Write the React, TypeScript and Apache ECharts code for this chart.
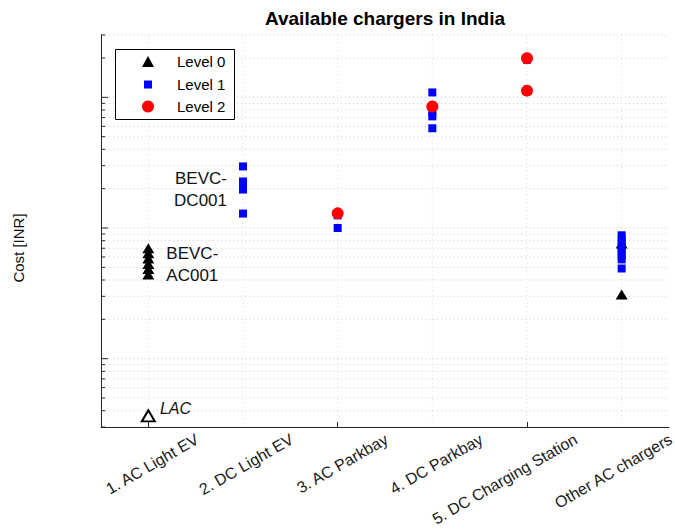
import React, { useEffect, useRef } from "react";
import * as echarts from "echarts";

const FONT = '"Liberation Sans", Arial, Helvetica, sans-serif';

const categories = [
  "1. AC Light EV",
  "2. DC Light EV",
  "3. AC Parkbay",
  "4. DC Parkbay",
  "5. DC Charging Station",
  "Other AC chargers",
];

// [category index, cost in INR]
const level0 = [
  [0, 70000], [0, 64000], [0, 58500], [0, 53000], [0, 48500], [0, 44000],
  [5, 76000], [5, 31000],
];
const lacPoint = [[0, 3650]];
const level1 = [
  [1, 296000], [1, 227000], [1, 212000], [1, 197000], [1, 129000],
  [2, 125000], [2, 100000],
  [3, 1090000], [3, 765000], [3, 715000], [3, 580000],
  [4, 1940000],
  [5, 88000], [5, 82000], [5, 76500], [5, 71000], [5, 66500], [5, 62000], [5, 57500], [5, 49000],
];
const level2 = [[2, 129500], [3, 850000], [4, 1990000], [4, 1125000]];

const legendNames = ["Level 0", "Level 1", "Level 2"];

const yMin = 3000;
const yMax = 3000000;
const gridValues: number[] = [];
for (let k = 3; k <= 6; k++) {
  for (let m = 1; m <= 9; m++) {
    const v = m * Math.pow(10, k);
    if (v >= yMin && v <= yMax) gridValues.push(v);
  }
}
const majorValues = [10000, 100000, 1000000];

export default function App() {
  const ref = useRef<HTMLDivElement>(null);
  useEffect(() => {
    if (!ref.current) return;
    const chart = echarts.init(ref.current, undefined, { renderer: "svg" });
    const annot = (text: string, pos: string, dist: number, extra: any = {}) => ({
      show: true,
      formatter: text,
      position: pos,
      distance: dist,
      fontSize: 17,
      lineHeight: 22,
      color: "#111",
      fontFamily: FONT,
      ...extra,
    });
    const l0 = level0.map((d) =>
      d[0] === 0 && d[1] === 53000
        ? { value: d, label: annot("BEVC-\nAC001", "right", 12) }
        : { value: d }
    );
    const l1 = level1.map((d) =>
      d[0] === 1 && d[1] === 197000
        ? { value: d, label: annot("BEVC-\nDC001", "left", 12) }
        : { value: d }
    );
    const lac = lacPoint.map((d) => ({
      value: d,
      label: annot("LAC", "right", 4, { fontStyle: "italic", offset: [0, -7], fontSize: 16 }),
    }));

    // legend entries: icon sizes differ per level, so one legend per entry inside a shared box
    const iconSizes = [
      [12, 11],
      [8, 8],
      [12, 12],
    ];
    const rowCenters = [62, 85, 107];
    const legends = legendNames.map((name, i) => {
      const [w, h] = iconSizes[i];
      return {
        orient: "vertical",
        left: 148 - w / 2,
        top: rowCenters[i] - 8,
        padding: 0,
        z: 6,
        data: [name],
        selectedMode: false,
        itemWidth: w,
        itemHeight: h,
        formatter: "{a|{name}}",
        textStyle: {
          fontSize: 15,
          fontFamily: FONT,
          color: "#000",
          rich: {
            a: { fontSize: 15, lineHeight: 16, fontFamily: FONT, color: "#000", padding: [0, 0, 0, 24 - w / 2] },
          },
        },
      };
    });

    chart.setOption({
      animation: false,
      backgroundColor: "#fff",
      grid: { left: 101, top: 35, width: 568, height: 392, containLabel: false },
      graphic: [
        {
          type: "text",
          x: 385,
          y: 18,
          style: {
            text: "Available chargers in India",
            font: `bold 19px ${FONT}`,
            fill: "#000",
            align: "center",
            verticalAlign: "middle",
          },
        },
        {
          type: "text",
          x: 18,
          y: 248,
          rotation: Math.PI / 2,
          style: {
            text: "Cost [INR]",
            font: `15px ${FONT}`,
            fill: "#111",
            align: "center",
            verticalAlign: "middle",
          },
        },
        {
          type: "rect",
          z: 1,
          shape: { x: 115.5, y: 49.5, width: 119, height: 70 },
          style: { fill: "#fff", stroke: "#000", lineWidth: 1 },
        },
      ],
      legend: legends,
      xAxis: {
        type: "category",
        data: categories,
        boundaryGap: true,
        axisLine: { lineStyle: { color: "#262626", width: 1 } },
        axisTick: { show: true, inside: true, alignWithLabel: true, length: 5, lineStyle: { color: "#262626" } },
        axisLabel: { show: false },
        splitLine: { show: false },
      },
      yAxis: {
        type: "log",
        logBase: 10,
        min: yMin,
        max: yMax,
        axisLine: { show: true, lineStyle: { color: "#262626", width: 1 } },
        axisTick: { show: false },
        axisLabel: { show: false },
        splitLine: { show: false },
        minorTick: { show: false },
      },
      series: [
        {
          type: "custom",
          name: "vgrid",
          silent: true,
          z: 0,
          data: categories.map((_, i) => [i, yMin]),
          encode: { x: 0, y: 1 },
          renderItem: (params: any, api: any) => {
            const p = api.coord([api.value(0), api.value(1)]);
            const cs = params.coordSys;
            return {
              type: "line",
              shape: { x1: p[0], y1: cs.y, x2: p[0], y2: cs.y + cs.height },
              style: { stroke: "#e2e2e2", lineWidth: 1, lineDash: [1, 3] },
            };
          },
        },
        {
          type: "custom",
          name: "hgrid",
          silent: true,
          z: 0,
          data: gridValues.map((v) => [0, v]),
          encode: { x: 0, y: 1 },
          renderItem: (params: any, api: any) => {
            const v = api.value(1);
            const p = api.coord([0, v]);
            const cs = params.coordSys;
            const major = majorValues.indexOf(v) >= 0;
            return {
              type: "group",
              children: [
                {
                  type: "line",
                  shape: { x1: cs.x, y1: p[1], x2: cs.x + cs.width, y2: p[1] },
                  style: { stroke: "#cdcdcd", lineWidth: 1, lineDash: [1, 3] },
                },
                {
                  type: "line",
                  shape: { x1: cs.x, y1: p[1], x2: cs.x + (major ? 7 : 4), y2: p[1] },
                  style: { stroke: "#262626", lineWidth: 1 },
                },
              ],
            };
          },
        },
        {
          type: "custom",
          name: "xlabels",
          silent: true,
          clip: false,
          z: 3,
          data: categories.map((_, i) => [i, yMin]),
          encode: { x: 0, y: 1 },
          renderItem: (params: any, api: any) => {
            const idx = api.value(0);
            const p = api.coord([idx, api.value(1)]);
            return {
              type: "text",
              x: p[0] + 45,
              y: p[1] + 4,
              rotation: Math.PI / 6,
              style: {
                text: categories[idx],
                font: `16px ${FONT}`,
                fill: "#1a1a1a",
                align: "right",
                verticalAlign: "top",
              },
            };
          },
        },
        {
          type: "scatter",
          name: "Level 0",
          symbol: "triangle",
          symbolSize: [12, 10],
          itemStyle: { color: "#000", opacity: 1 },
          emphasis: { disabled: true },
          data: l0,
          z: 4,
        },
        {
          type: "scatter",
          name: "LAC",
          symbol: "triangle",
          symbolSize: [13, 11],
          itemStyle: { color: "#fff", borderColor: "#000", borderWidth: 2, opacity: 1 },
          emphasis: { disabled: true },
          data: lac,
          z: 4,
        },
        {
          type: "scatter",
          name: "Level 1",
          symbol: "rect",
          symbolSize: 8,
          itemStyle: { color: "#0000ff", opacity: 1 },
          emphasis: { disabled: true },
          data: l1,
          z: 5,
        },
        {
          type: "scatter",
          name: "Level 2",
          symbol: "circle",
          symbolSize: 12,
          itemStyle: { color: "#ff0000", opacity: 1 },
          emphasis: { disabled: true },
          data: level2,
          z: 6,
        },
      ],
    });
    return () => chart.dispose();
  }, []);
  return (
    <div
      ref={ref}
      style={{ position: "fixed", left: 0, top: 0, width: 675, height: 530, background: "#fff" }}
    />
  );
}
